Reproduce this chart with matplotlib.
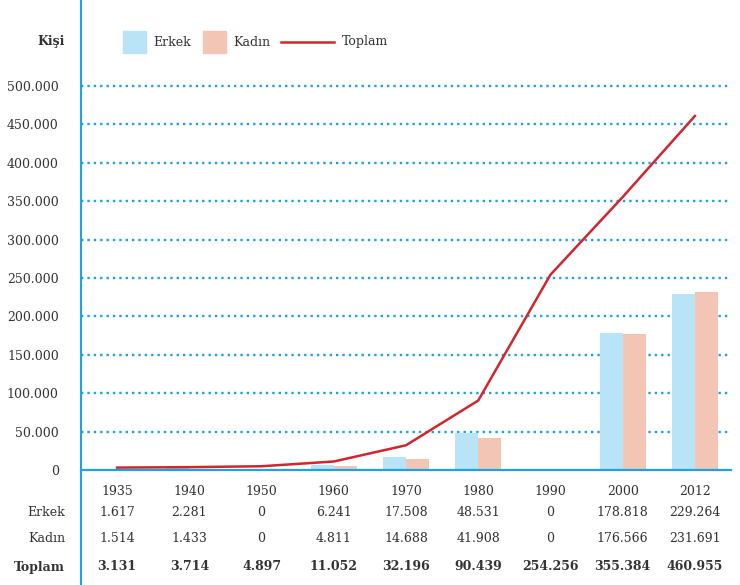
import matplotlib
matplotlib.use("Agg")
import matplotlib.pyplot as plt
from matplotlib.patches import Rectangle
from matplotlib.lines import Line2D
from matplotlib.ticker import FuncFormatter
from matplotlib.transforms import blended_transform_factory

# data
years = ["1935", "1940", "1950", "1960", "1970", "1980", "1990", "2000", "2012"]
erkek = [1617, 2281, 0, 6241, 17508, 48531, 0, 178818, 229264]
kadin = [1514, 1433, 0, 4811, 14688, 41908, 0, 176566, 231691]
toplam = [3131, 3714, 4897, 11052, 32196, 90439, 254256, 355384, 460955]

BLUE = "#1ba3e3"
C_ERKEK = "#b9e3f7"
C_KADIN = "#f2c5b4"
C_RED = "#d0262d"
TXT = "#333333"

plt.rcParams["font.family"] = ["DejaVu Serif"]
plt.rcParams["font.size"] = 9

W, H = 740, 585
fig = plt.figure(figsize=(W / 100, H / 100), dpi=100)

x0, x1 = 81, 731
y0, ytop = 470, 30
ax = fig.add_axes([x0 / W, (H - y0) / H, (x1 - x0) / W, (y0 - ytop) / H])

def fmt(v, pos=None):
    return "{:,}".format(int(v)).replace(",", ".")

xs = list(range(len(years)))
bw = 0.32
ax.bar([x - bw / 2 for x in xs], erkek, width=bw, color=C_ERKEK, zorder=2)
ax.bar([x + bw / 2 for x in xs], kadin, width=bw, color=C_KADIN, zorder=2)
ax.plot(xs, toplam, color=C_RED, lw=1.8, zorder=4)

ax.set_xlim(-0.5, len(years) - 0.5)
ax.set_ylim(0, 500000 * (y0 - ytop) / (y0 - 86))
ticks = list(range(0, 500001, 50000))
ax.set_yticks(ticks)
ax.yaxis.set_major_formatter(FuncFormatter(fmt))
for t in ticks[1:]:
    ax.axhline(t, color=BLUE, lw=1.7, ls=(0, (1, 1.7)), dash_capstyle="butt", zorder=1)
ax.axhline(0, color=BLUE, lw=1.6, zorder=3, clip_on=False)

for s in ax.spines.values():
    s.set_visible(False)
ax.tick_params(axis="y", length=0, pad=16, labelcolor=TXT)
ax.set_xticks(xs)
ax.set_xticklabels(years)
ax.tick_params(axis="x", length=0, pad=11, labelcolor=TXT)

# table rows under the axis
tr = blended_transform_factory(ax.transData, fig.transFigure)
rows = [("Erkek", erkek, 513, "normal"), ("Kadın", kadin, 539, "normal"),
        ("Toplam", toplam, 567, "bold")]
for name, vals, py, wt in rows:
    fig.text(65 / W, 1 - py / H, name, ha="right", va="center", color=TXT, fontweight=wt)
    for x, v in zip(xs, vals):
        ax.text(x, 1 - py / H, fmt(v), transform=tr, ha="center", va="center",
                color=TXT, fontweight=wt)

# vertical axis line over full height
fig.add_artist(Line2D([x0 / W, x0 / W], [0, 1], color=BLUE, lw=1.5, transform=fig.transFigure))

# y label and legend
ly = 1 - 42 / H
fig.text(65 / W, ly, "Kişi", ha="right", va="center", color=TXT, fontweight="bold")
fig.add_artist(Rectangle((123 / W, 1 - 53 / H), 23 / W, 22 / H, color=C_ERKEK, transform=fig.transFigure))
fig.text(153 / W, ly, "Erkek", ha="left", va="center", color=TXT)
fig.add_artist(Rectangle((203 / W, 1 - 53 / H), 23 / W, 22 / H, color=C_KADIN, transform=fig.transFigure))
fig.text(233 / W, ly, "Kadın", ha="left", va="center", color=TXT)
fig.add_artist(Line2D([281 / W, 334 / W], [ly, ly], color=C_RED, lw=1.8, transform=fig.transFigure))
fig.text(342 / W, ly, "Toplam", ha="left", va="center", color=TXT)

fig.savefig("out.png", dpi=100)
